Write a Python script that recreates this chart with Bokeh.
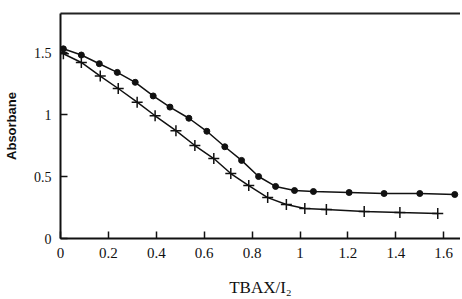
from bokeh.plotting import figure
from bokeh.models import Range1d, FixedTicker, LinearAxis
from bokeh.embed import file_html
from bokeh.resources import INLINE

# Data
x_dots = [0.012, 0.087, 0.162, 0.237, 0.312, 0.387, 0.457, 0.536, 0.611, 0.686,
          0.756, 0.827, 0.898, 0.977, 1.056, 1.205, 1.351, 1.50, 1.646]
y_dots = [1.53, 1.48, 1.41, 1.34, 1.26, 1.15, 1.06, 0.97, 0.865, 0.74,
          0.63, 0.50, 0.42, 0.387, 0.379, 0.371, 0.363, 0.363, 0.355]

x_cross = [0.012, 0.087, 0.166, 0.241, 0.32, 0.395, 0.482, 0.561, 0.64, 0.711,
           0.786, 0.865, 0.943, 1.02, 1.11, 1.268, 1.417, 1.575]
y_cross = [1.49, 1.42, 1.31, 1.21, 1.10, 0.99, 0.87, 0.75, 0.645, 0.524,
           0.427, 0.33, 0.274, 0.242, 0.234, 0.218, 0.21, 0.202]

x_ticks = [0, 0.2, 0.4, 0.6, 0.8, 1.0, 1.2, 1.4, 1.6]
x_tick_labels = {0: "0", 0.2: "0.2", 0.4: "0.4", 0.6: "0.6", 0.8: "0.8",
                 1.0: "1", 1.2: "1.2", 1.4: "1.4", 1.6: "1.6"}
y_ticks = [0, 0.5, 1, 1.5]
y_tick_labels = {0: "0", 0.5: "0.5", 1: "1", 1.5: "1.5"}

x_title = "TBAX/I₂"
y_title = "Absorbane"

p = figure(width=460, height=299, output_backend="svg", toolbar_location=None,
           x_range=Range1d(0, 1.67), y_range=Range1d(0, 1.815),
           min_border_left=58, min_border_right=0, min_border_top=13,
           min_border_bottom=61)
p.outline_line_color = None
p.grid.visible = False
p.background_fill_color = "white"

serif = "Liberation Serif"
for ax in (p.xaxis[0], p.yaxis[0]):
    ax.axis_line_width = 2
    ax.axis_line_color = "#111111"
    ax.major_tick_line_width = 1.5
    ax.major_tick_line_color = "#111111"
    ax.major_tick_in = 7
    ax.major_tick_out = 0
    ax.minor_tick_line_color = None
    ax.major_label_text_font = serif
    ax.major_label_text_color = "#111111"

p.xaxis.major_label_text_font_size = "15px"
p.xaxis.major_label_standoff = 9
p.yaxis.major_label_text_font_size = "14px"
p.yaxis.major_label_standoff = 9

p.xaxis.ticker = FixedTicker(ticks=x_ticks)
p.xaxis.major_label_overrides = x_tick_labels
p.xaxis.axis_label = x_title
p.xaxis.axis_label_text_font = serif
p.xaxis.axis_label_text_font_style = "normal"
p.xaxis.axis_label_text_font_size = "17px"
p.xaxis.axis_label_text_color = "#111111"
p.xaxis.axis_label_standoff = 17

p.yaxis.ticker = FixedTicker(ticks=y_ticks)
p.yaxis.major_label_overrides = y_tick_labels
p.yaxis.axis_label = y_title
p.yaxis.axis_label_text_font = "Liberation Sans"
p.yaxis.axis_label_text_font_style = "bold"
p.yaxis.axis_label_text_font_size = "13px"
p.yaxis.axis_label_text_color = "#111111"
p.yaxis.axis_label_standoff = 12

top = LinearAxis(ticker=FixedTicker(ticks=[]), major_label_text_font_size="0px",
                 axis_line_width=2, axis_line_color="#222222",
                 major_tick_line_color=None, minor_tick_line_color=None)
p.add_layout(top, "above")

p.line(x_dots, y_dots, line_color="#111111", line_width=1.5)
p.scatter(x_dots, y_dots, marker="circle", size=6, fill_color="#111111",
          line_color="#111111")
p.line(x_cross, y_cross, line_color="#111111", line_width=1.5)
p.scatter(x_cross, y_cross, marker="cross", size=11, line_color="#111111",
          line_width=1.5)

open("out.html", "w").write(file_html(p, INLINE))
